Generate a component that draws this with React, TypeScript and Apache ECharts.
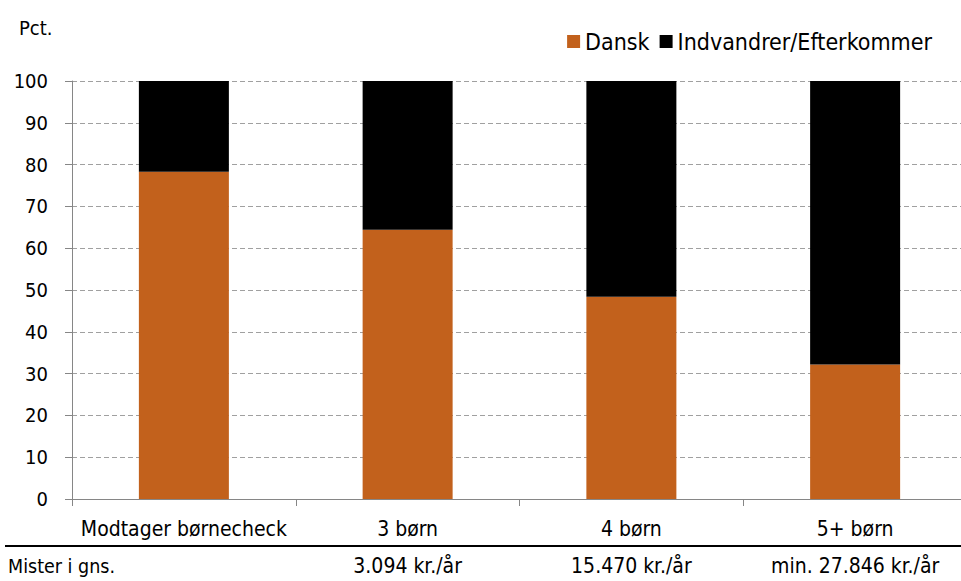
import React, { useEffect, useRef } from "react";
import * as echarts from "echarts";

const categories = ["Modtager børnecheck", "3 børn", "4 børn", "5+ børn"];
const dansk = [78.3, 64.4, 48.4, 32.2];
const indvandrer = [21.7, 35.6, 51.6, 67.8];
const lossLabels = ["", "3.094 kr./år", "15.470 kr./år", "min. 27.846 kr./år"];
const rowTitle = "Mister i gns.";
const yTicks = { min: 0, max: 100, interval: 10 };

const FONT = "'DejaVu Sans Condensed', 'DejaVu Sans', sans-serif";

export default function App() {
  const ref = useRef<HTMLDivElement>(null);
  useEffect(() => {
    if (!ref.current) return;
    const chart = echarts.init(ref.current, null, { renderer: "svg" });
    chart.setOption({
      animation: false,
      textStyle: { fontFamily: FONT, color: "#000" },
      grid: {
        left: 72,
        width: 895,
        top: 81,
        bottom: 82,
        containLabel: false,
        outerBoundsMode: "none",
      },
      legend: {
        right: 24,
        top: 25,
        itemWidth: 13,
        itemHeight: 13,
        itemGap: 10,
        textStyle: { fontFamily: FONT, fontSize: 23, color: "#000" },
        data: [
          { name: "Dansk", icon: "rect" },
          { name: "Indvandrer/Efterkommer", icon: "rect" },
        ],
      },
      graphic: [
        {
          type: "text",
          left: 19,
          top: 18,
          style: { text: "Pct.", font: `20px ${FONT}`, fill: "#000" },
        },
        {
          type: "line",
          shape: { x1: 5, y1: 546, x2: 961, y2: 546 },
          style: { stroke: "#000", lineWidth: 2 },
        },
        {
          type: "text",
          left: 8,
          top: 556,
          style: { text: rowTitle, font: `19.5px ${FONT}`, fill: "#000" },
        },
      ],
      xAxis: [
        {
          type: "category",
          data: categories,
          axisLine: { lineStyle: { color: "#868686" } },
          axisTick: { show: true, length: 7, interval: 0, lineStyle: { color: "#868686" } },
          axisLabel: { fontSize: 21, color: "#000", margin: 19, fontFamily: FONT, interval: 0 },
        },
        {
          type: "category",
          data: lossLabels,
          position: "bottom",
          offset: 48,
          axisLine: { show: false },
          axisTick: { show: false },
          axisLabel: { fontSize: 21, color: "#000", margin: 8, fontFamily: FONT, interval: 0 },
        },
      ],
      yAxis: {
        type: "value",
        min: yTicks.min,
        max: yTicks.max,
        interval: yTicks.interval,
        axisLine: { show: true, lineStyle: { color: "#868686" } },
        axisTick: { show: true, length: 7, lineStyle: { color: "#868686" } },
        axisLabel: { fontSize: 20, color: "#000", margin: 24, fontFamily: FONT },
        splitLine: { lineStyle: { type: [5, 3], color: "#A0A0A0", width: 1 } },
      },
      series: [
        {
          name: "Dansk",
          type: "bar",
          stack: "total",
          barWidth: 90,
          data: dansk,
          itemStyle: { color: "#C2611C" },
        },
        {
          name: "Indvandrer/Efterkommer",
          type: "bar",
          stack: "total",
          barWidth: 90,
          data: indvandrer,
          itemStyle: { color: "#000000" },
        },
      ],
    });
    return () => chart.dispose();
  }, []);
  return <div ref={ref} style={{ width: 961, height: 581, position: "absolute", left: 0, top: 0 }} />;
}
